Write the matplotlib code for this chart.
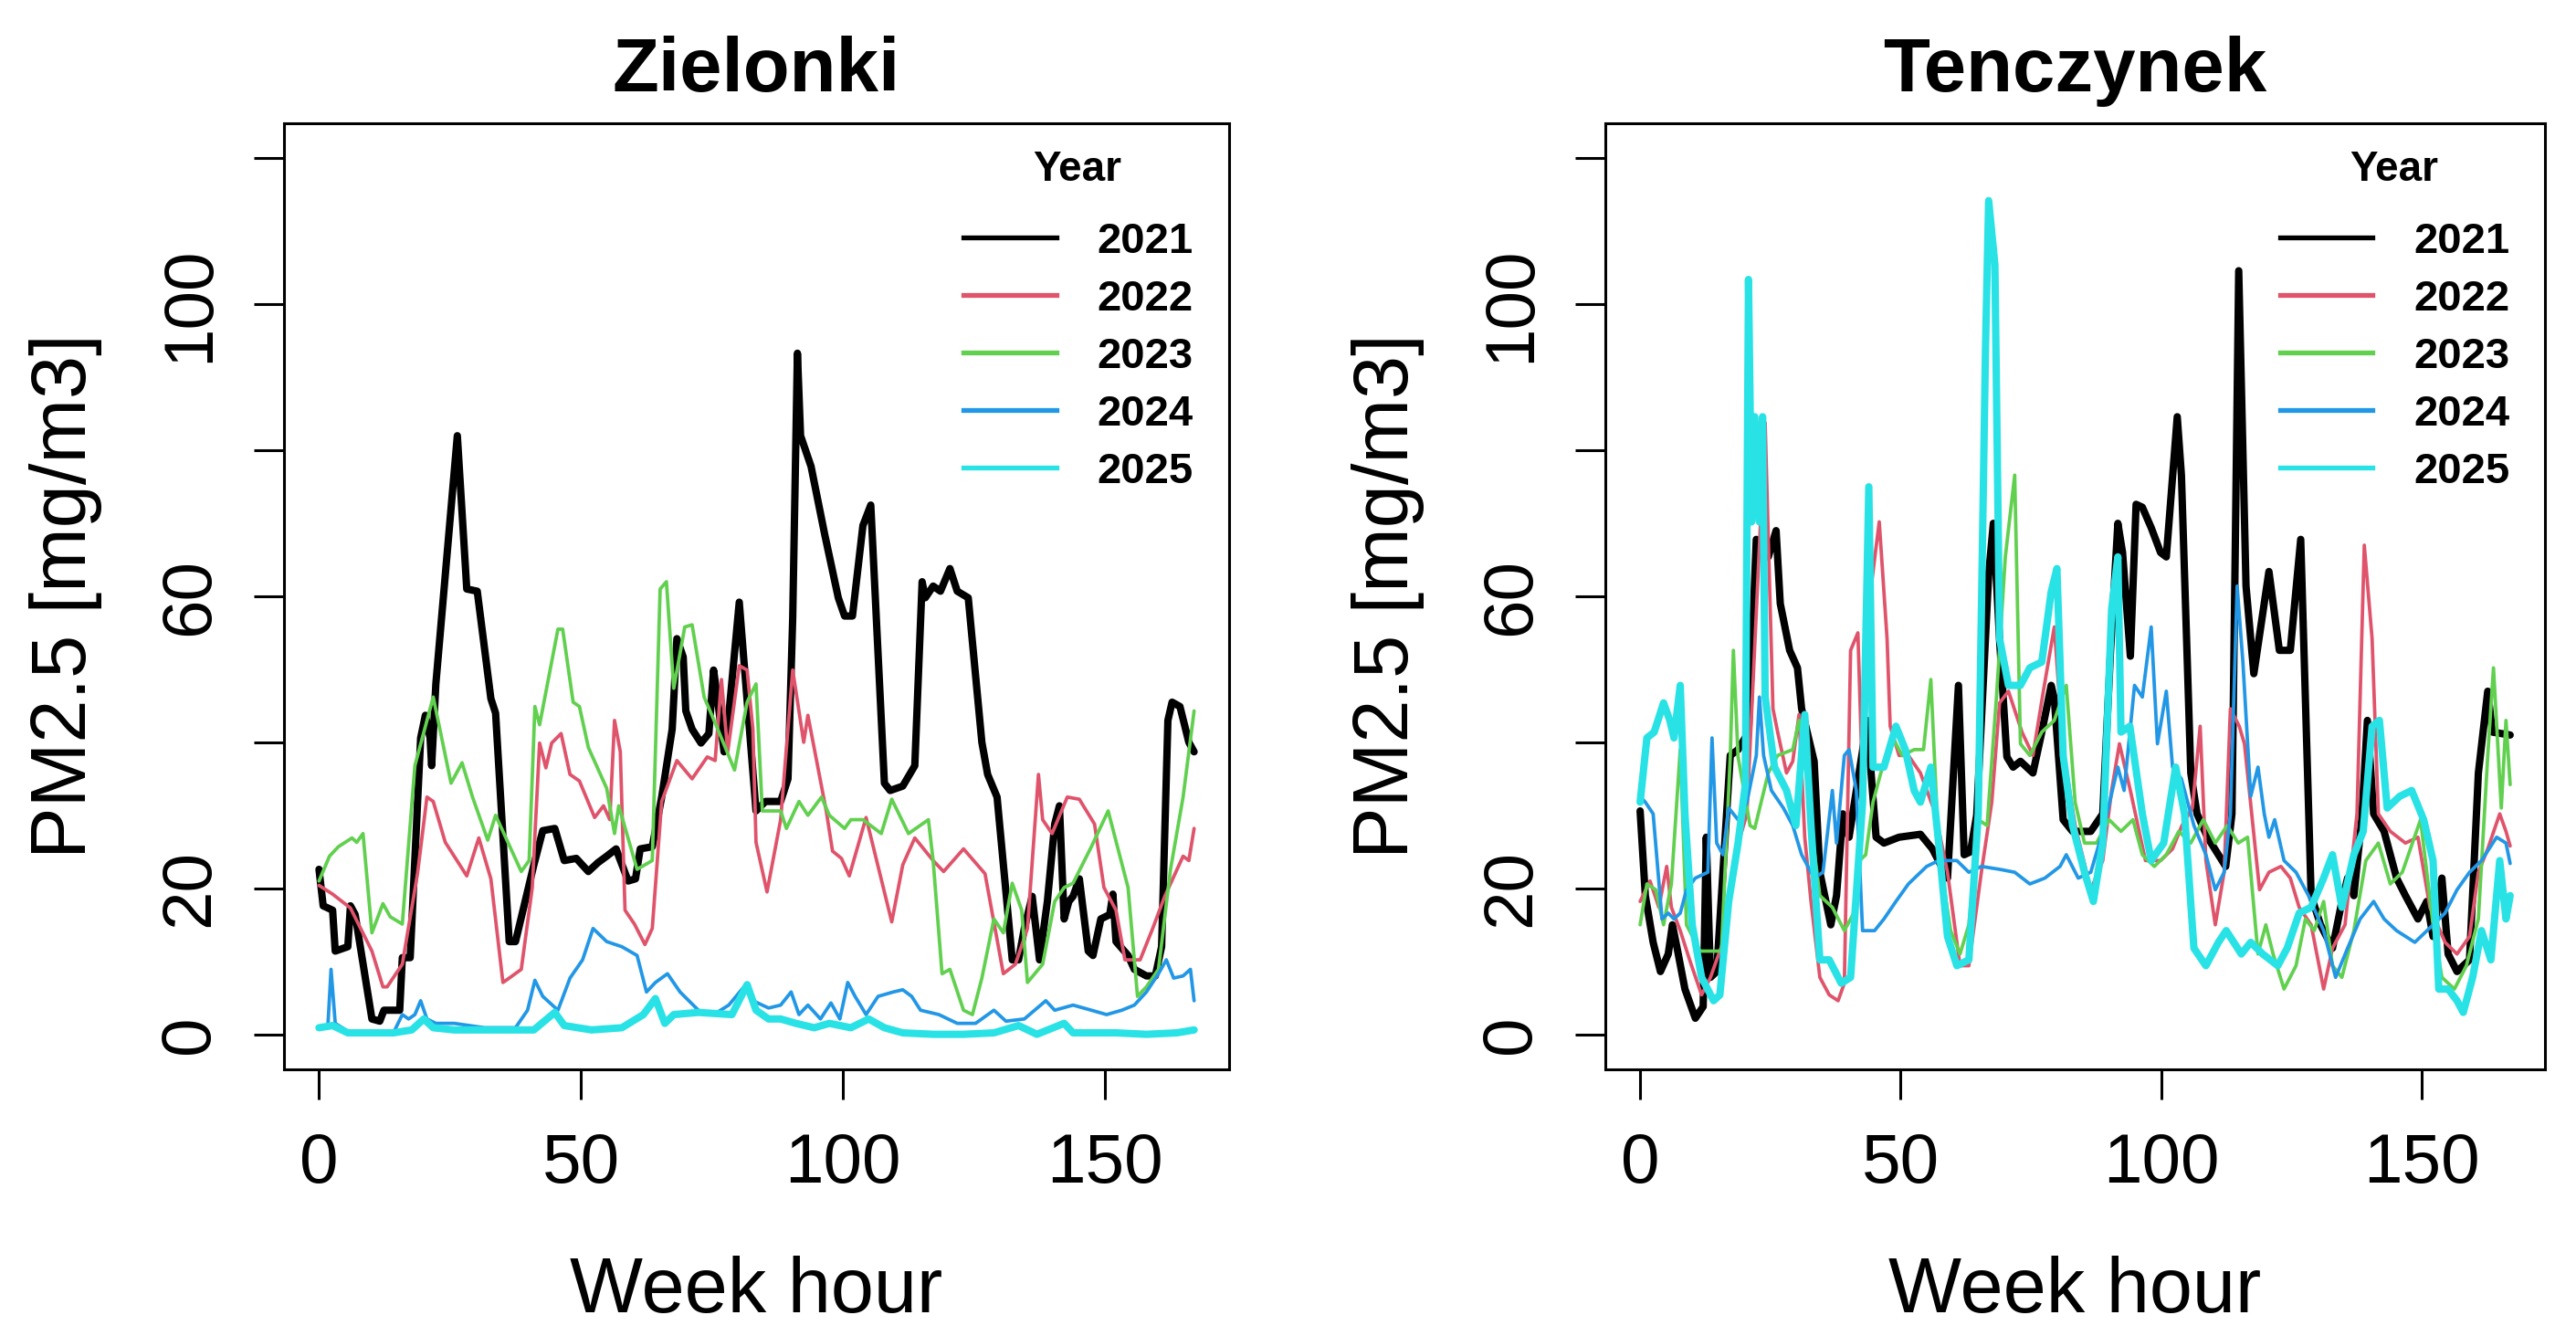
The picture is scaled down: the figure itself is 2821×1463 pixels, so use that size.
import numpy as np
import matplotlib
matplotlib.use("Agg")
import matplotlib.pyplot as plt
from matplotlib.lines import Line2D

plt.rcParams['font.family'] = ['Liberation Sans', 'DejaVu Sans']

# week hour / PM2.5 pairs
years = ["2021", "2022", "2023", "2024", "2025"]
colors = ["#000000", "#DF536B", "#61D04F", "#2297E6", "#28E2E5"]
widths = [5.8, 2.7, 2.7, 2.7, 5.8]

zie_2021 = [(0,22.6),(0.8,17.6),(2.6,17),(3.1,11.4),(5.5,12),(6,17.6),(6.9,16.4),(10.1,2.1),(11.6,1.8),(12.4,3.3),
            (15.4,3.3),(15.9,10.5),(17.4,10.5),(19.4,40.6),(20.3,43.7),(21.2,40.6),(21.5,36.8),(22.3,48),(26.4,82),
            (28.2,61),(30.2,60.7),(32.8,46),(33.7,44),(36.3,12.7),(37.5,12.7),(41,23.2),(42.7,27.9),(45,28.2),
            (46.8,23.8),(49.1,24.1),(51.4,22.3),(53.2,23.5),(54.9,24.4),(56.7,25.4),(57.2,24.4),(59,21),(60.4,21.3),
            (61.3,25.4),(63.6,25.7),(65.4,32.5),(67.4,41.8),(68.3,54.2),(69.5,51.7),(70,44.3),(71.2,41.8),(72.9,39.9),
            (74.4,41.2),(75.3,49.9),(75.9,46.8),(77.3,38.7),(78.2,43.7),(80.2,59.2),(81.1,51.1),(83.4,30.6),(85.2,31.9),
            (88.1,31.9),(89.5,35),(90.4,57),(91.3,93.3),(91.9,82),(93.9,77.8),(96.5,68.5),(99.1,59.8),(100.3,57.3),
            (101.8,57.3),(103.8,69.7),(105.3,72.5),(107.9,34.4),(109,33.4),(111.4,34),(113.7,36.8),(115.1,62),
            (115.7,59.8),(117.2,61.4),(118.6,60.7),(120.4,63.8),(121.8,60.7),(123.9,59.8),(126.5,40),(127.6,35.6),
            (129.4,32.5),(132.3,10.2),(133.5,10.2),(134.6,14.5),(136.1,18.9),(137.5,10.2),(139,18.2),(140.4,28.8),
            (141.3,31.3),(142.2,15.8),(143.1,18.2),(143.9,18.9),(145.1,21.3),(146.8,11.4),(147.7,10.8),(149.2,15.8),
            (150.9,16.4),(151.5,19.2),(152.1,12.7),(154.4,10.8),(155.6,8.9),(157.9,8),(159.6,8),(160.8,12),(162,43),
            (162.8,45.5),(164.3,44.9),(166,40),(167,38.7)]
zie_2022 = [(0,20.4),(2.6,19.2),(6,17.3),(10.1,11.4),(12.2,6.5),(13,6.5),(15.9,9.6),(18.8,22),(20.6,32.5),(21.8,31.9),
            (24.1,26.3),(25.8,24.4),(28.2,21.7),(30.5,26.9),(32.8,21.3),(35.1,7.1),(36.3,7.7),(38.6,8.9),(40.7,20.1),
            (42.1,39.9),(43.3,36.5),(44.4,39.9),(46.2,41.2),(47.9,35.6),(49.7,34.7),(52.6,29.7),(54.3,31.3),(55.5,29.4),
            (56.4,43),(57.5,38.7),(58.4,17),(60.2,15.1),(62.2,12.3),(63.6,14.5),(65.4,31.9),(68.3,37.5),(71.2,35),
            (74.1,38),(75.6,37.5),(76.8,48.6),(78,38.7),(80.2,50.5),(81.7,49.9),(82.8,41.8),(83.4,26.3),(85.5,19.5),
            (88.1,29.4),(90.4,49.9),(92.5,40),(93.3,43.7),(96.8,30.6),(98,25.1),(99.7,24.1),(101.2,21.7),(104.4,29.7),
            (109.3,15.4),(111.4,23.2),(113.7,26.9),(117.2,23.8),(119.2,22.3),(123,25.4),(127.1,22),(130.6,8.3),
            (132.9,9.6),(135.2,14.5),(137.3,35.6),(138.1,29.4),(139.9,27.5),(142.8,32.5),(145.1,32.2),(148,28.8),
            (149.8,20.1),(152.1,17),(153.8,10.2),(156.7,10.2),(159.1,14.5),(161.4,18.9),(164.9,24.4),(166,23.8),(167,28.2)]
zie_2023 = [(0,21),(2,24.4),(3.7,25.7),(6.3,26.9),(7.2,26.3),(8.4,27.5),(10.1,13.9),(12.2,17.9),(13.6,16.1),(15.9,15.1),
            (18.3,36.8),(21.8,46.2),(25.2,34.4),(27.3,37.2),(29.3,32.5),(32.2,26.6),(33.7,30),(38.6,22.3),(40.1,23.8),
            (41.2,44.9),(42.1,42.4),(45.6,55.5),(46.5,55.5),(48.5,45.5),(49.7,44.9),(51.4,39.3),(54.9,33.7),(56.4,27.5),
            (57.2,31.3),(60.7,22.6),(63.6,23.8),(65.1,61),(66.3,62),(67.7,47.4),(69.8,55.8),(71.2,56.1),(73.5,46.2),
            (76.1,41.8),(79.3,36.2),(81.7,45.5),(83.4,48),(84.6,30.6),(88.1,30.6),(89.2,28.2),(91.6,31.9),(93.3,30),
            (95.9,32.5),(97.4,30),(100.3,28.2),(101.5,29.4),(103.8,29.4),(107.3,27.5),(109.3,32.2),(112.5,27.5),
            (116.3,29.4),(117.2,23.8),(118.9,8.3),(120.4,8.9),(123,3.3),(124.7,2.7),(126.5,7.7),(128.8,15.8),(130.6,13.9),
            (132.3,20.7),(134.1,17),(135.2,7.1),(138.1,9.6),(140.4,18.2),(142.2,20.1),(143.9,20.7),(147.4,25.7),
            (150.6,30.6),(154.4,20.1),(156.2,5.2),(157.9,6.5),(160.2,8.9),(162.5,22.6),(164.9,32.5),(167,44.3)]
zie_2024 = [(0,0.9),(1.7,1.2),(2.3,8.9),(3.1,1.5),(6,0.2),(14.2,0.2),(15.9,2.7),(17.1,2.1),(18.3,2.7),(19.4,4.6),
            (20.6,2.1),(22.3,1.5),(25.8,1.5),(31.6,0.9),(37.5,0.9),(39.8,3.3),(41.2,7.4),(42.7,5.2),(45.6,3.3),(47.9,7.7),
            (50.3,10.2),(52.3,14.5),(54.9,12.7),(57.8,12),(60.7,10.8),(62.5,5.8),(64.2,7.1),(66.5,8.3),(68.9,5.8),
            (72.4,3.3),(75.3,2.7),(78.2,4),(81.1,6.5),(82.8,4.6),(85.8,3.6),(88.1,4),(90.1,5.8),(91.6,2.7),(93.3,4),
            (95.7,2.1),(97.7,4.3),(99.4,2.1),(100.9,7.1),(102.3,5.2),(104.4,2.7),(106.7,5.2),(109.6,5.8),(111.4,6.1),
            (113.1,5.2),(114.8,3.3),(118.3,2.7),(121.8,1.5),(125.3,1.5),(128.8,3.3),(131.1,1.8),(134.6,2.1),(138.7,4.6),
            (140.4,3.3),(143.9,4),(147.4,3.3),(150.3,2.7),(153.2,3.3),(155.6,4),(157.9,5.8),(160.2,8.3),(161.7,10.2),
            (163.1,7.7),(164.9,8),(166.3,8.9),(167,4.6)]
zie_2025 = [(0,0.9),(2.6,1.2),(5.5,0.2),(14.2,0.2),(17.7,0.6),(20,2.1),(21.8,0.9),(25.8,0.6),(34.6,0.6),(41,0.6),
            (45,3),(46.8,1.2),(52,0.6),(57.8,0.9),(61.9,2.7),(64.2,4.9),(66,1.5),(67.7,2.7),(72.4,3),(78.8,2.7),
            (81.7,6.8),(83.4,3.3),(85.8,2.1),(88.1,2.1),(91,1.5),(94.5,0.9),(97.4,1.5),(101.5,0.9),(104.9,2.1),
            (107.9,0.9),(111.4,0.2),(117.2,0),(123,0),(128.8,0.2),(133.5,1.2),(137,0),(142.2,1.5),(143.9,0.2),
            (152.1,0.2),(157.9,0),(163.7,0.2),(167,0.6)]

ten_2021 = [(0,30.6),(1,19),(2.5,12.6),(3.9,8.6),(5.4,11),(6.2,15),(7.1,11.8),(8.6,6.2),(10.6,2.2),(12.1,3.8),
            (12.7,27),(13.5,7.8),(14.7,8.6),(17.3,38.2),(18.8,39),(20.8,41.4),(22.3,67.8),(24.6,65.4),(26.1,69),
            (26.9,59),(28.7,52.6),(30.2,50.2),(31,44.6),(33.4,37.4),(34.5,22.2),(36.6,15),(37.7,19),(38.9,30.2),
            (40.1,27),(43.6,43),(44.5,34.2),(45.3,27),(46.8,26.2),(49.7,27),(53.8,27.4),(56.1,25.4),(59,21.4),
            (61.1,47.8),(62.2,24.6),(63.4,25),(64.6,30),(66.9,63),(67.8,70),(69,54),(70.4,38),(71.6,36.6),(73,37.4),
            (75.4,35.8),(77.1,41.4),(78.9,47.8),(79.5,46),(81.2,29.4),(83,27.8),(86.5,27.8),(88.8,30.2),(90.3,52.6),
            (91.7,70),(92.6,66),(94.1,51.8),(95.2,72.6),(96.4,72.2),(98.1,69.4),(99.9,66),(101,65.4),(103.1,84.6),
            (103.9,76.6),(105.7,35.8),(106.9,30.2),(108.9,27),(111,24.6),(112.4,23),(113.6,30.2),(114.9,104.6),
            (116.3,61.4),(117.8,49.4),(120.7,63.4),(122.7,52.6),(124.8,52.6),(126.8,67.8),(128.8,19),(130.6,15),
            (132.9,11.8),(134.7,18.2),(135.8,21.4),(137,19),(138.5,29.4),(139.6,43),(140.8,30.2),(142.8,27.8),
            (145.2,21.4),(146.9,19),(149.3,15.8),(151,18.2),(152.2,13.4),(153.9,21.4),(155.1,11),(156.8,8.6),
            (159.2,10.2),(160.9,35.8),(162.7,47),(163.6,41.4),(167,41)]
ten_2022 = [(0,18.2),(1.9,21),(3.6,17.4),(5.1,23),(6,17.4),(7.7,14.2),(9.5,10.2),(11.8,5.4),(13.5,7.8),(15.9,12.6),
            (18.2,24.6),(20.5,30.2),(24,83.8),(25.5,44.6),(26.4,41.4),(28.1,35.8),(29.3,37.4),(30.5,43.8),(31.6,27),
            (32.8,18.2),(34.5,7.8),(36.3,5.4),(38,4.6),(39.2,7),(40.4,52.6),(41.8,55),(42.7,34.2),(44.5,62.2),
            (45.9,70.2),(47.4,54.2),(48,42.2),(49.7,38.2),(51.5,38.2),(53.8,35.8),(56.7,30.2),(59,22.2),(61.4,9.4),
            (63.1,9.4),(65.5,22.2),(67.5,31.8),(69,45.4),(70.7,47),(73.3,41.4),(75.4,38.2),(77.4,47),(79.5,55.8),
            (81.2,39),(83.5,28.6),(86.5,19.8),(88.8,23.8),(90.5,33.4),(92,39.8),(94.1,33.4),(97,23.8),(99.9,23.8),
            (102.2,25.4),(104,28.6),(106,31),(107.5,42.2),(108.6,23.8),(110.4,15),(112.1,22.2),(113.3,44.6),
            (115,42.2),(116,39.8),(118.9,19.8),(120.7,22.2),(123,23),(124.8,21.4),(126.5,17.4),(128.8,15),(131.2,6.2),
            (132.9,11.8),(135.3,15),(137.6,30.2),(139,67),(140.5,54.2),(141.7,30.2),(144,27.8),(146.9,26.2),
            (149.3,27),(151.6,17.4),(154.5,12.6),(156.8,11),(159.2,13.4),(160.9,22.2),(162.7,25.4),(165,30.2),
            (166.2,27.8),(167,25.8)]
ten_2023 = [(0,15),(1.3,20.6),(3,19.8),(4.5,15),(6,20.6),(7.7,39),(8.9,15),(11.5,11.4),(15.6,11.4),(17.3,38),
            (17.9,52.6),(18.8,38),(21.1,28.6),(22,28.2),(24.6,35.8),(26.4,38.2),(29.3,39),(30.5,43),(31.6,38.2),
            (32.8,28.6),(34.5,19),(36.9,17.4),(39.2,14.2),(41,16.6),(42.1,23.8),(43.3,24.6),(44.7,31.8),(46.2,35.8),
            (48.5,40.6),(50.3,38.2),(52.6,39),(54.4,39),(55.8,48.6),(57,30.2),(57.9,22.2),(59.6,14.2),(61.4,11),
            (63.1,15),(64.9,29.4),(66.6,28.6),(68.4,46.2),(70.1,65.4),(71.9,76.6),(73,39.8),(74.8,38.2),(77.1,41.4),
            (79.5,43),(81.8,47.8),(83.5,31.8),(85.3,26.2),(87.6,26.2),(90,29.4),(92.3,27.8),(94.6,29.4),(96.4,24.6),
            (98.7,23),(101,24.6),(103.4,27.8),(105.7,26.2),(108.1,29.4),(110.4,26.2),(112.7,28.6),(114.8,26.2),
            (116.6,27),(118.6,11),(120.1,15),(121.5,11),(123.6,6.2),(125.9,9.4),(127.7,15.8),(129.4,14.2),
            (131.2,18.2),(132.9,9.4),(134.7,7.8),(137,14.2),(139.3,23.8),(141.7,26.2),(144,20.6),(146.3,22.2),
            (149.8,29.4),(152.2,15),(153.9,7.8),(156.3,6.2),(158.6,9.4),(160.9,15.8),(162.7,38.2),(163.8,50.2),
            (165.3,31),(166.2,43),(167,34.2)]
ten_2024 = [(0,32.6),(1,31.8),(2.5,30.2),(4.2,15.8),(5.4,16.6),(6.5,15.8),(7.7,16.6),(8.9,19.8),(10.6,21.4),(13,22.2),
            (13.8,40.6),(14.7,26.2),(15.9,24.6),(17,31),(18.8,29.4),(20.5,31.8),(22.3,38.2),(22.9,46.2),(23.7,38.2),
            (25.2,33.4),(27.5,31),(29.3,28.6),(31,24.6),(33.4,21.4),(35.1,22.2),(36.9,33.4),(37.7,26.2),(39.2,38.2),
            (40.1,39),(41.5,33.4),(42.7,14.2),(45,14.2),(46.8,15.8),(49.1,18.2),(51.5,20.6),(55,23),(57.3,23.8),
            (60.8,23.8),(63.1,22.2),(65.5,23),(69,22.6),(71.9,22.2),(74.8,20.6),(77.7,21.4),(80.6,23),(81.8,24.6),
            (84.1,21.4),(86.5,22.2),(88.8,27.8),(91.7,36.6),(92.9,33.4),(94.9,47.8),(96.4,46.2),(98.1,55.8),
            (99.3,39.8),(101,47),(102.2,36.6),(103.9,35),(106.3,28.6),(108.6,24.6),(110.4,19.8),(112.1,22.2),
            (113.3,30.2),(114.6,61.4),(115.7,51),(117.2,32.6),(118.6,36.6),(119.8,30.2),(120.7,27),(121.8,29.4),
            (123.6,23.8),(125.9,22.2),(128.3,19),(131.2,14.2),(133.5,7.8),(135.8,11.8),(138.2,15.8),(140.8,18.2),
            (142.8,15.8),(145.2,14.2),(148.7,12.6),(152.2,15),(154.5,16.6),(156.8,19.8),(159.2,22.2),(161.5,23.8),
            (164.4,27),(166.2,26.2),(167,23.4)]
ten_2025 = [(0,31.8),(1.3,40.6),(2.7,41.4),(4.5,45.4),(5.7,43),(6.5,40.6),(7.7,47.8),(8.6,30.2),(10,15),(11.8,7.8),
            (14.1,4.6),(15.3,5.4),(17,18.2),(18.8,26.2),(20.2,34.2),(20.8,103.4),(21.4,70.2),(22,84.6),(22.9,70.2),
            (23.5,84.6),(24,46.2),(25.8,36.6),(28.1,33.4),(29.9,28.6),(31.6,43.8),(32.8,28.6),(34.5,10.2),(36.3,10.2),
            (38.6,7),(40.4,7.8),(42.7,31.8),(43.9,75),(44.7,36.6),(46.8,36.6),(49.1,42.2),(50.9,39),(52.6,33.4),
            (53.8,31.8),(55.8,36.6),(57.3,26.2),(59,13.4),(60.8,9.4),(63.1,10.2),(64.9,30.2),(66.3,94.2),(66.9,114.2),
            (68.1,105.4),(69,54.2),(70.7,47.8),(73,47.8),(74.8,50.2),(77.1,51),(78.9,60.6),(80,63.8),(81.2,38.2),
            (83,28.6),(85.3,22.2),(87,18.2),(88.8,26.2),(90.5,58.2),(91.7,65.4),(92.3,41.4),(94,42.2),(96.4,30.2),
            (98.1,23.8),(100.5,26.2),(102.8,36.6),(104.5,30.2),(106.3,11.8),(108.6,9.4),(111,12.6),(112.5,14.2),
            (115.4,11),(117.2,12.6),(119.5,11),(122.4,9.4),(124.2,11.8),(126.5,16.6),(128.8,17.4),(131.2,21.4),
            (132.9,24.6),(134.7,17.4),(137,24.6),(138.8,27.8),(140.5,42.2),(141.9,43),(143.4,31),(145.8,32.6),
            (148.1,33.4),(150.4,29.4),(152.2,23.8),(153.3,6.2),(155.1,6.2),(156.8,4.6),(158,3),(159.8,7.8),
            (161.5,14.2),(163.3,10.2),(165,23.8),(166.2,15.8),(167,19)]

stations = ["Zielonki", "Tenczynek"]
series = [[zie_2021, zie_2022, zie_2023, zie_2024, zie_2025],
          [ten_2021, ten_2022, ten_2023, ten_2024, ten_2025]]

x_ticks = [0, 50, 100, 150]
y_ticks = [0, 20, 40, 60, 80, 100, 120]
y_ticklabels = ["0", "20", "", "60", "", "100", ""]

W, H = 2821, 1463
fig = plt.figure(figsize=(W / 100, H / 100), dpi=100)
boxes = [(311, 1346), (1758, 2787)]
top, bottom = 135, 1171

for k, (name, data) in enumerate(zip(stations, series)):
    x0, x1 = boxes[k]
    ax = fig.add_axes([x0 / W, 1 - bottom / H, (x1 - x0) / W, (bottom - top) / H])
    for pts, c, lw in zip(data, colors, widths):
        arr = np.array(pts)
        ax.plot(arr[:, 0], arr[:, 1], color=c, lw=lw,
                solid_joinstyle='round', solid_capstyle='round')
    ax.set_xlim(-6.68, 173.68)
    ax.set_ylim(-4.8, 124.8)
    ax.set_xticks(x_ticks)
    ax.set_yticks(y_ticks)
    ax.set_yticklabels(y_ticklabels)
    ax.tick_params(axis='both', direction='out', length=24, width=2.2, labelsize=55)
    ax.tick_params(axis='x', pad=26)
    ax.tick_params(axis='y', pad=24)
    for lab in ax.get_yticklabels():
        lab.set_rotation(90)
        lab.set_va('center')
    for sp in ax.spines.values():
        sp.set_linewidth(2.2)

    ax.set_title(name, fontsize=60, fontweight='bold', pad=25)
    ax.set_xlabel("Week hour", fontsize=61)
    ax.xaxis.set_label_coords(0.5, -0.2568)
    ax.xaxis.label.set_va('baseline')
    ax.set_ylabel("PM2.5 [mg/m3]", fontsize=61)
    ax.yaxis.set_label_coords(-0.2097, 0.5)
    ax.yaxis.label.set_va('baseline')

    ax.text(0.8396, 0.951, "Year", transform=ax.transAxes, ha='center', va='center',
            fontsize=33, fontweight='bold')
    handles = [Line2D([], [], color=c, lw=3.8) for c in colors]
    ax.legend(handles, years, loc='upper right', bbox_to_anchor=(0.9623, 0.8958),
              frameon=False, prop={'weight': 'bold', 'size': 34},
              handlelength=2.15, handletextpad=0.95, labelspacing=0.40,
              borderpad=0, borderaxespad=0)

fig.savefig("out.png", dpi=100)
